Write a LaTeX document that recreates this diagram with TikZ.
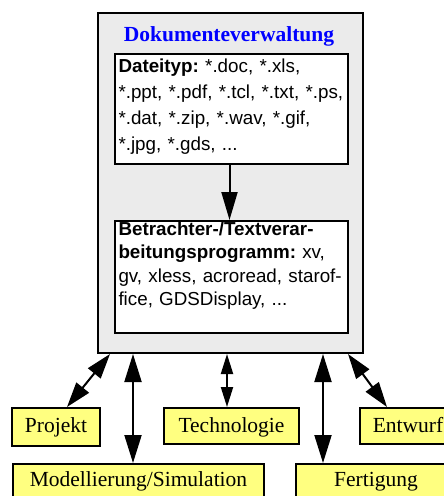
\documentclass[tikz,border=0pt]{standalone}
\usepackage{fontspec}
\setmainfont{Liberation Serif}
\newfontfamily\helv{Liberation Sans}
\usetikzlibrary{arrows.meta}
\definecolor{labelyellow}{HTML}{FFFF80}
\definecolor{panelgray}{HTML}{EBEBEB}
\definecolor{titleblue}{HTML}{0000FF}
\frenchspacing
\begin{document}
\begin{tikzpicture}[x=1pt,y=1pt,line width=2pt,
  frame/.style={draw=black,line width=2pt},
  infobox/.style={frame,fill=white,anchor=north west,inner xsep=3.5pt,inner ysep=0pt,
    text width=226pt,align=left},
  tag/.style={frame,fill=labelyellow,anchor=north west,inner sep=0pt,align=center,
    font=\fontsize{21.5}{24}\selectfont},
  bigtips/.style={arrows={Triangle[length=28pt,width=17pt]-Triangle[length=28pt,width=17pt]}},
  midtips/.style={arrows={Triangle[length=25pt,width=16pt]-Triangle[length=25pt,width=16pt]}},
  smalltips/.style={arrows={Triangle[length=20pt,width=12pt]-Triangle[length=20pt,width=12pt]}}]
\useasboundingbox (0,0) rectangle (444,-496);
\clip (0,0) rectangle (444,-496);

% document management panel
\node[frame,fill=panelgray,minimum width=265pt,minimum height=340pt,inner sep=0pt,
  anchor=north west] (panel) at (97,-12) {};
\node[font=\bfseries\fontsize{21.5}{24}\selectfont,text=titleblue,anchor=base,inner sep=0pt]
  (title) at (229,-41) {Dokumenteverwaltung};

\node[infobox,text height=18pt,text depth=92pt,font=\helv\fontsize{18.8}{26.3}\selectfont]
  (types) at (114,-53)
  {\textbf{Dateityp:} *.doc, *.xls,\\
   {}*.ppt, *.pdf, *.tcl, *.txt, *.ps,\\
   {}*.dat, *.zip, *.wav, *.gif,\\
   {}*.jpg, *.gds, ...};

\node[infobox,text height=14pt,text depth=98pt,font=\helv\fontsize{18.8}{23.5}\selectfont]
  (viewers) at (114,-220)
  {\textbf{Betrachter-/Textverar-}\\
   \textbf{beitungsprogramm:} xv,\\
   gv, xless, acroread, starof-\\
   fice, GDSDisplay, ...};

\draw[-{Triangle[length=28pt,width=16pt]}] ([xshift=-2pt]types.south) -- ([xshift=-2pt]viewers.north);

% neighbouring areas
\node[tag,text width=88pt,text height=24pt,text depth=14pt] (proj) at (11,-407) {Projekt};
\node[tag,text width=135pt,text height=24.5pt,text depth=11.5pt] (tech) at (163,-407) {Technologie};
\node[tag,text width=96pt,text height=24pt,text depth=12pt] (design) at (359,-407) {Entwurf};
\node[tag,text width=251pt,text height=22pt,text depth=15pt] (model) at (12,-463) {Modellierung/Simulation};
\node[tag,text width=160pt,text height=22pt,text depth=15pt] (fab) at (295,-463) {Fertigung};

% connection points on the panel
\coordinate (cProj) at ([xshift=13pt]panel.south west);
\coordinate (cModel) at ([xshift=36pt]panel.south west);
\coordinate (cTech) at ([xshift=130pt]panel.south west);
\coordinate (cFab) at ([xshift=226pt]panel.south west);
\coordinate (cDesign) at ([xshift=251pt]panel.south west);

\draw[midtips] (cProj) -- ([xshift=56pt]proj.north west);
\draw[bigtips] (cModel) -- (cModel |- model.north);
\draw[smalltips] (cTech) -- (cTech |- tech.north);
\draw[bigtips] (cFab) -- (cFab |- fab.north);
\draw[midtips] (cDesign) -- ([xshift=28pt]design.north west);
\end{tikzpicture}
\end{document}
